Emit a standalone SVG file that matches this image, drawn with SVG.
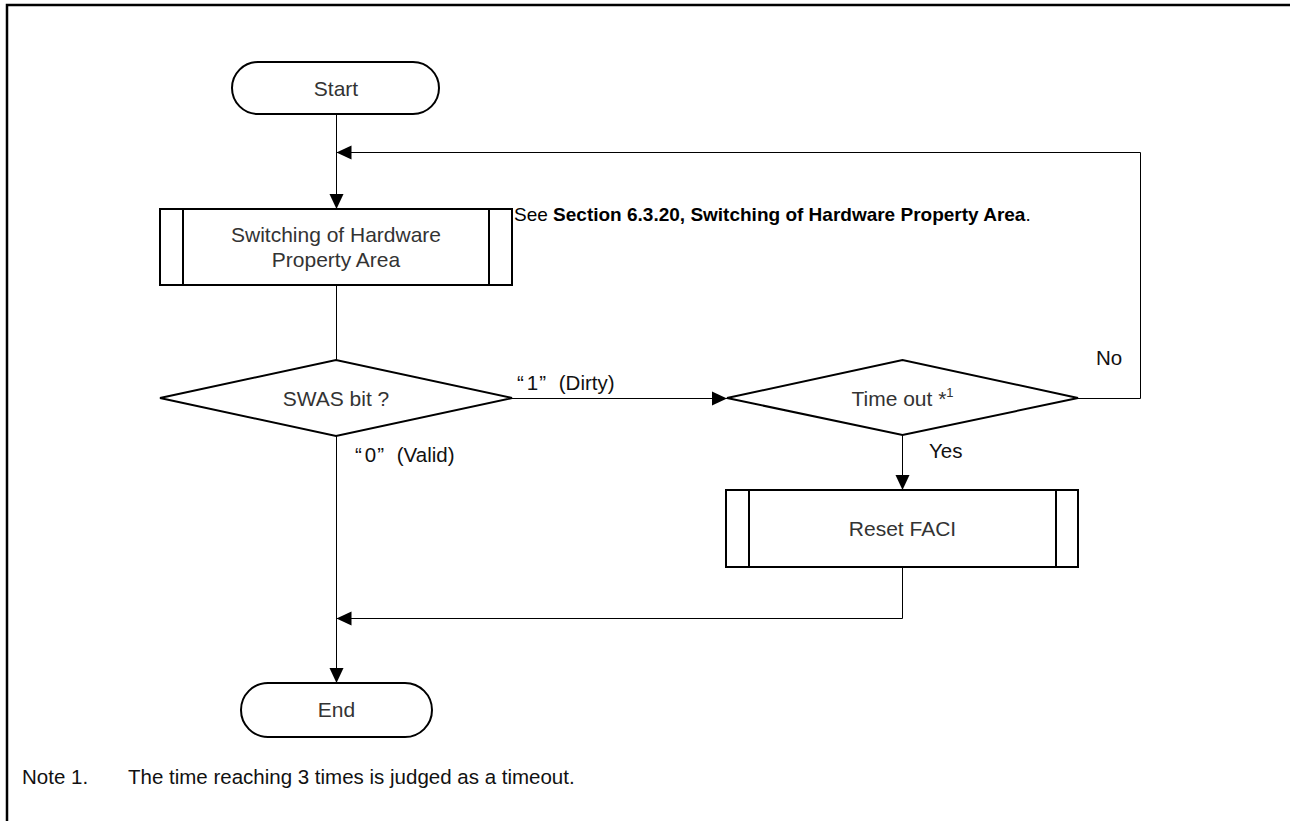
<svg xmlns="http://www.w3.org/2000/svg" width="1290" height="821" viewBox="0 0 1290 821">
<style>
  .shape { fill: #fff; stroke: #000; stroke-width: 2; }
  .inner { fill: none; stroke: #000; stroke-width: 2; }
  .conn { fill: none; stroke: #000; stroke-width: 1; }
  .node-text { font-family: "Liberation Sans", Arial, sans-serif; font-size: 21px; fill: #333; text-anchor: middle; }
  .label { font-family: "Liberation Sans", Arial, sans-serif; font-size: 20.5px; fill: #111; }
  .note { font-family: "Liberation Sans", Arial, sans-serif; font-size: 20.5px; fill: #111; }
  .ref { font-family: "Liberation Sans", Arial, sans-serif; font-size: 19px; fill: #000; }
</style>
<defs>
  <marker id="arrow" markerWidth="15" markerHeight="15" refX="15" refY="7.5" orient="auto" markerUnits="userSpaceOnUse">
    <path d="M0,0.5 L15,7.5 L0,14.5 Z" fill="#000"/>
  </marker>
</defs>
<rect width="1290" height="821" fill="#fff"/>
<path d="M7,821 V5 H1290" fill="none" stroke="#000" stroke-width="2.5"/>

<g id="connectors">
  <path class="conn" d="M336.5,114 V209" marker-end="url(#arrow)"/>
  <path class="conn" d="M336.5,285 V360"/>
  <path class="conn" d="M512,398.5 H727" marker-end="url(#arrow)"/>
  <path class="conn" d="M1078,398.5 H1140.5 V152.5 H336.5" marker-end="url(#arrow)"/>
  <path class="conn" d="M902.5,435 V490" marker-end="url(#arrow)"/>
  <path class="conn" d="M902.5,567 V618.5 H336.5" marker-end="url(#arrow)"/>
  <path class="conn" d="M336.5,436 V683" marker-end="url(#arrow)"/>
</g>

<g id="start">
  <rect class="shape" x="232" y="62" width="207" height="52" rx="26" ry="26"/>
  <text class="node-text" x="336" y="96">Start</text>
</g>

<g id="switching">
  <rect class="shape" x="160" y="209" width="352" height="76"/>
  <line class="inner" x1="183" y1="209" x2="183" y2="285"/>
  <line class="inner" x1="489" y1="209" x2="489" y2="285"/>
  <text class="node-text" x="336" y="242">Switching of Hardware</text>
  <text class="node-text" x="336" y="267">Property Area</text>
</g>

<g id="see-note">
  <text class="ref" x="514" y="221">See <tspan font-weight="bold">Section 6.3.20, Switching of Hardware Property Area</tspan>.</text>
</g>

<g id="swas">
  <polygon class="shape" points="160,398 336,360 512,398 336,436"/>
  <text class="node-text" x="336" y="405.5">SWAS bit ?</text>
</g>

<g id="timeout">
  <polygon class="shape" points="727,398 902.5,360 1078,398 902.5,435"/>
  <text class="node-text" x="902.5" y="405.5">Time out *<tspan font-size="13" dy="-9">1</tspan></text>
</g>

<g id="reset">
  <rect class="shape" x="726" y="490" width="352" height="77"/>
  <line class="inner" x1="749" y1="490" x2="749" y2="567"/>
  <line class="inner" x1="1056" y1="490" x2="1056" y2="567"/>
  <text class="node-text" x="902.5" y="536">Reset FACI</text>
</g>

<g id="end">
  <rect class="shape" x="241" y="683" width="191" height="54" rx="27" ry="27"/>
  <text class="node-text" x="336.5" y="717">End</text>
</g>

<g id="labels">
  <text class="label" x="517" y="390">“<tspan dx="3">1</tspan><tspan dx="1">”</tspan><tspan dx="7"> (Dirty)</tspan></text>
  <text class="label" x="355" y="461.5">“<tspan dx="3">0</tspan><tspan dx="1">”</tspan><tspan dx="7"> (Valid)</tspan></text>
  <text class="label" x="929" y="458">Yes</text>
  <text class="label" x="1096" y="365">No</text>
</g>

<g id="footnote">
  <text class="note" x="22" y="784">Note 1.</text>
  <text class="note" x="128" y="784">The time reaching 3 times is judged as a timeout.</text>
</g>
</svg>
